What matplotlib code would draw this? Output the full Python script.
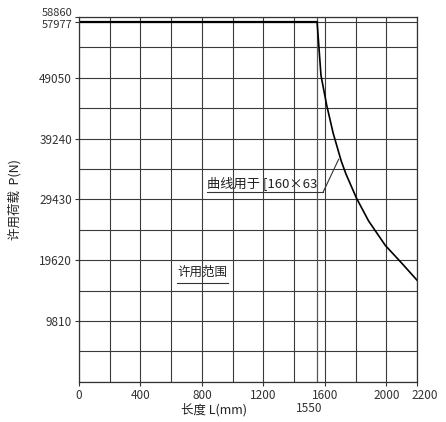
import matplotlib
matplotlib.use("Agg")
import matplotlib.pyplot as plt
from matplotlib.ticker import MultipleLocator, FixedLocator
from matplotlib.transforms import ScaledTranslation

plt.rcParams['font.family'] = ['Noto Sans CJK SC', 'DejaVu Sans']

# Data
flat_L = [0, 1550]
flat_P = [57977, 57977]
curve_L = [1550, 1575, 1612, 1654, 1707, 1738, 1806, 1885, 1994, 2101, 2200]
curve_P = [57977, 49440, 44650, 40140, 35600, 33500, 29640, 25950, 22000, 19140, 16400]

x_ticks = [0, 400, 800, 1200, 1600, 2000, 2200]
y_ticks = [9810, 19620, 29430, 39240, 49050, 57977, 58860]
knee_L = 1550

fig = plt.figure(figsize=(4.46, 4.22), dpi=100)
ax = fig.add_axes([0.177, 0.095, 0.758, 0.865])

ax.set_xlim(0, 2200)
ax.set_ylim(0, 58860)

ax.xaxis.set_major_locator(FixedLocator(x_ticks))
ax.xaxis.set_minor_locator(MultipleLocator(200))
ax.yaxis.set_major_locator(FixedLocator(y_ticks))
ax.yaxis.set_minor_locator(MultipleLocator(4905))
ax.grid(True, which='both', color='#3a3a3a', linewidth=0.8)
ax.axvline(knee_L, color='#555555', linewidth=0.9)

ax.plot(flat_L, flat_P, color='black', linewidth=1.6)
ax.plot(curve_L, curve_P, color='black', linewidth=1.2)

ax.tick_params(axis='both', which='major', labelsize=8.5, colors='#333333',
               length=3, width=0.8)
ax.tick_params(axis='both', which='minor', length=0)
ax.tick_params(axis='x', pad=2)
ax.tick_params(axis='y', pad=2)
ax.set_xticklabels([str(v) for v in x_ticks])
ax.set_yticklabels([str(v) for v in y_ticks])
for s in ax.spines.values():
    s.set_color('#333333')
    s.set_linewidth(0.9)

# nudge crowded tick labels like the reference
ylabs = ax.get_yticklabels()
ylabs[-1].set_fontsize(8)
ylabs[-2].set_fontsize(8)
ylabs[-1].set_transform(ylabs[-1].get_transform() +
                        ScaledTranslation(0, 5 / 100, fig.dpi_scale_trans))
ylabs[-2].set_transform(ylabs[-2].get_transform() +
                        ScaledTranslation(0, -2 / 100, fig.dpi_scale_trans))
xlabs = ax.get_xticklabels()
xlabs[-1].set_transform(xlabs[-1].get_transform() +
                        ScaledTranslation(8 / 100, 0, fig.dpi_scale_trans))

# annotations
ax.text(833, 32100, '曲线用于 [160×63', fontsize=9.5, va='center', ha='left',
        color='#222222')
ax.plot([833, 1590], [30650, 30650], color='#333333', linewidth=0.8)
ax.plot([1590, 1690], [30650, 35900], color='#333333', linewidth=0.8)

ax.text(638, 17600, '许用范围', fontsize=9, va='center', ha='left',
        color='#222222')
ax.plot([638, 970], [15970, 15970], color='#333333', linewidth=0.8)

ax.text(1500, -0.072, '1550', transform=ax.get_xaxis_transform(),
        fontsize=8.5, ha='center', va='center', color='#333333')

fig.text(0.48, 0.028, '长度 L(mm)', fontsize=9, ha='center', va='center',
         color='#222222')
fig.text(0.034, 0.526, '许用荷载  P(N)', fontsize=9, ha='center', va='center',
         rotation=90, color='#222222')

fig.savefig('out.png', dpi=100, facecolor='white')
